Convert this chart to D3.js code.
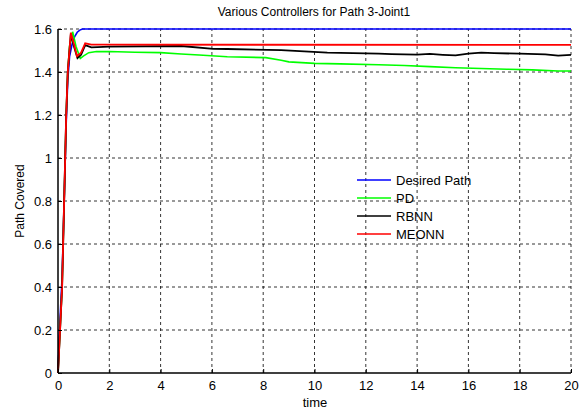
<!DOCTYPE html>
<html>
<head>
<meta charset="utf-8">
<script src="https://cdn.jsdelivr.net/npm/d3@7"></script>
<style>
  body { margin: 0; background: #fff; }
  text { font-family: "Liberation Sans", Arial, sans-serif; fill: #000; }
</style>
</head>
<body>
<svg id="chart" width="587" height="414"></svg>
<script>
const xTicks = [0, 2, 4, 6, 8, 10, 12, 14, 16, 18, 20];
const yTicks = [0, 0.2, 0.4, 0.6, 0.8, 1, 1.2, 1.4, 1.6];

const seriesNames = ["Desired Path", "PD", "RBNN", "MEONN"];
const seriesColors = ["#0000ff", "#00ff00", "#000000", "#ff0000"];

const desiredT = [0, 0.04, 0.08, 0.16, 0.2, 0.24, 0.28, 0.32, 0.38, 0.45, 0.55, 0.65, 0.75, 0.85, 0.95, 20];
const desiredV = [0, 0.15, 0.25, 0.45, 0.62, 0.8, 0.98, 1.16, 1.36, 1.47, 1.53, 1.565, 1.585, 1.595, 1.6, 1.6];

const pdT = [0, 0.08, 0.16, 0.2, 0.24, 0.28, 0.32, 0.38, 0.45, 0.57, 0.7, 0.87, 1.0, 1.2, 1.5, 2, 3, 4, 4.8, 5.5, 6.6, 8.1, 8.7, 9, 10, 11, 12.5, 13.5, 14.5, 15.5, 16.5, 17.5, 18.5, 19.5, 20];
const pdV = [0, 0.2, 0.4, 0.6, 0.8, 1.0, 1.2, 1.4, 1.52, 1.587, 1.52, 1.463, 1.475, 1.49, 1.495, 1.495, 1.492, 1.49, 1.484, 1.479, 1.471, 1.467, 1.455, 1.447, 1.44, 1.438, 1.434, 1.43, 1.425, 1.42, 1.416, 1.413, 1.41, 1.405, 1.405];

const rbnnT = [0, 0.08, 0.16, 0.2, 0.24, 0.28, 0.32, 0.38, 0.5, 0.62, 0.76, 0.9, 1.06, 1.3, 2, 4.8, 6.05, 6.6, 8.7, 10.5, 12.5, 13, 14, 14.5, 15, 15.5, 16, 16.5, 17, 18, 19, 19.5, 20];
const rbnnV = [0, 0.2, 0.4, 0.6, 0.8, 1.0, 1.2, 1.4, 1.575, 1.52, 1.465, 1.48, 1.525, 1.515, 1.518, 1.521, 1.508, 1.507, 1.502, 1.49, 1.485, 1.483, 1.481, 1.484, 1.48, 1.477, 1.485, 1.49, 1.488, 1.485, 1.482, 1.476, 1.48];

const meonnT = [0, 0.08, 0.16, 0.2, 0.24, 0.28, 0.32, 0.38, 0.5, 0.62, 0.74, 0.9, 1.06, 1.3, 2, 20];
const meonnV = [0, 0.2, 0.4, 0.6, 0.8, 1.0, 1.2, 1.4, 1.583, 1.53, 1.474, 1.49, 1.533, 1.527, 1.527, 1.526];

const series = [
  { t: desiredT, v: desiredV, w: 1.6 },
  { t: pdT, v: pdV, w: 1.6 },
  { t: rbnnT, v: rbnnV, w: 1.8 },
  { t: meonnT, v: meonnV, w: 1.8 }
];

const svg = d3.select("#chart");
const x = d3.scaleLinear().domain([0, 20]).range([58, 571]);
const y = d3.scaleLinear().domain([0, 1.6]).range([373, 29]);

// grid (dashed, like matlab)
const grid = svg.append("g");
grid.selectAll("line.vx").data(xTicks.slice(1)).enter().append("line")
  .attr("x1", d => x(d)).attr("x2", d => x(d))
  .attr("y1", y(0)).attr("y2", y(1.6))
  .attr("stroke", "#000").attr("stroke-width", 0.8).attr("stroke-dasharray", "3,3");
grid.selectAll("line.hy").data(yTicks.slice(1)).enter().append("line")
  .attr("x1", x(0)).attr("x2", x(20))
  .attr("y1", d => y(d)).attr("y2", d => y(d))
  .attr("stroke", "#000").attr("stroke-width", 0.8).attr("stroke-dasharray", "3,3");

// lines
const line = d3.line().x(d => x(d[0])).y(d => y(d[1]));
series.forEach((s, i) => {
  svg.append("path")
    .attr("d", line(s.t.map((t, j) => [t, s.v[j]])))
    .attr("fill", "none")
    .attr("stroke", seriesColors[i])
    .attr("stroke-width", s.w);
});

// axes
const xAxis = d3.axisBottom(x).tickValues(xTicks).tickSize(-4).tickPadding(8).tickFormat(d3.format("d"));
const yAxis = d3.axisLeft(y).tickValues(yTicks).tickSize(-4).tickPadding(6).tickFormat(d => d);
const gx = svg.append("g").attr("transform", `translate(0,${y(0)})`).call(xAxis);
const gy = svg.append("g").attr("transform", `translate(${x(0)},0)`).call(yAxis);
[gx, gy].forEach(g => {
  g.select(".domain").attr("stroke", "#000").attr("stroke-width", 1.5);
  g.selectAll(".tick line").attr("stroke", "#000");
  g.selectAll("text").style("font-size", "13px").style("font-family", "Liberation Sans, Arial, sans-serif");
});
gy.select(".domain").attr("d", `M0,${y(1.6)}V${y(0)}`);
gx.select(".domain").attr("d", `M${x(0)},0H${x(20)}`);

// titles
svg.append("text").attr("x", 314).attr("y", 16).attr("text-anchor", "middle")
  .style("font-size", "12px").text("Various Controllers for Path 3-Joint1");
svg.append("text").attr("x", 315).attr("y", 407).attr("text-anchor", "middle")
  .style("font-size", "13px").text("time");
svg.append("text").attr("transform", "translate(24,201) rotate(-90)").attr("text-anchor", "middle")
  .style("font-size", "12px").text("Path Covered");

// legend
const leg = svg.append("g");
seriesNames.forEach((name, i) => {
  const ly = 180 + i * 18;
  leg.append("line").attr("x1", 357).attr("x2", 391).attr("y1", ly).attr("y2", ly)
    .attr("stroke", seriesColors[i]).attr("stroke-width", 1.5);
  leg.append("text").attr("x", 396).attr("y", ly + 5).style("font-size", "13px").text(name);
});
</script>
</body>
</html>
